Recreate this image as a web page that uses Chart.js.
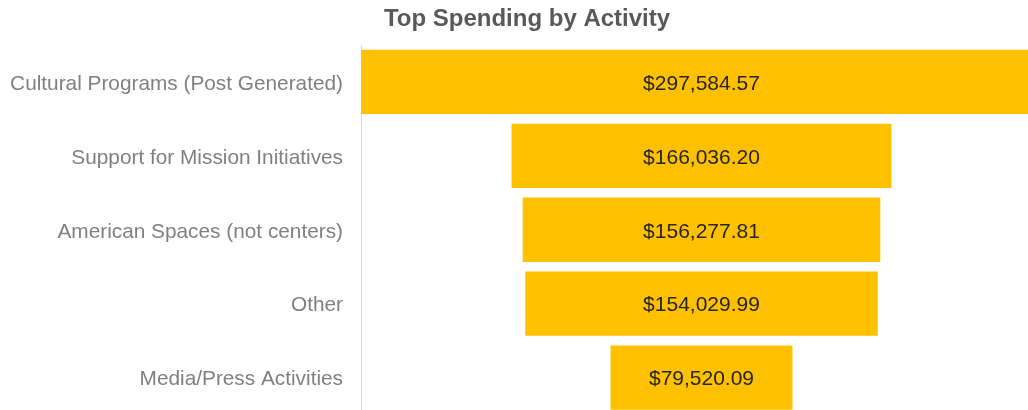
<!DOCTYPE html>
<html>
<head>
<meta charset="utf-8">
<script src="https://cdn.jsdelivr.net/npm/chart.js@4/dist/chart.umd.min.js"></script>
<style>
html,body{margin:0;padding:0;background:#fff;overflow:hidden;}
#c{position:absolute;left:0;top:0;}
</style>
</head>
<body>
<canvas id="c" width="1028" height="437" style="width:1028px;height:437px;"></canvas>
<script>
const categories = ["Cultural Programs (Post Generated)", "Support for Mission Initiatives", "American Spaces (not centers)", "Other", "Media/Press Activities"];
const spending = [297584.57, 166036.20, 156277.81, 154029.99, 79520.09];
const chartTitle = "Top Spending by Activity";

const maxVal = Math.max(...spending);
const floating = spending.map(v => [-v / 2, v / 2]);

function fmt(v) {
  return "$" + v.toLocaleString("en-US", {minimumFractionDigits: 2, maximumFractionDigits: 2});
}

const labelPlugin = {
  id: "labels",
  afterDatasetsDraw(chart) {
    const ctx = chart.ctx;
    const meta = chart.getDatasetMeta(0);
    ctx.save();
    ctx.font = "21px 'Liberation Sans', Arial, sans-serif";
    ctx.fillStyle = "#262626";
    ctx.textAlign = "center";
    ctx.textBaseline = "middle";
    meta.data.forEach((bar, i) => {
      ctx.fillText(fmt(spending[i]), (bar.x + bar.base) / 2, bar.y + 2);
    });
    ctx.restore();
  },
  afterDraw(chart) {
    const ctx = chart.ctx;
    ctx.save();
    ctx.font = "bold 24px 'Liberation Sans', Arial, sans-serif";
    ctx.fillStyle = "#595959";
    ctx.textAlign = "center";
    ctx.textBaseline = "middle";
    ctx.fillText(chartTitle, 527, 19);
    ctx.restore();
  }
};

new Chart(document.getElementById("c"), {
  type: "bar",
  data: {
    labels: categories,
    datasets: [{
      data: floating,
      backgroundColor: "#FFC000",
      borderWidth: 0,
      categoryPercentage: 1.0,
      barPercentage: 0.87
    }]
  },
  options: {
    indexAxis: "y",
    responsive: false,
    animation: false,
    devicePixelRatio: 1,
    layout: {padding: {top: 45, bottom: 1, left: 0, right: 0}},
    plugins: {legend: {display: false}, tooltip: {enabled: false}, title: {display: false}},
    scales: {
      x: {
        display: false,
        min: -maxVal / 2,
        max: maxVal / 2 * (326.5 / 340.5)
      },
      y: {
        grid: {display: false},
        border: {display: true, color: "#d9d9d9", width: 1},
        ticks: {
          color: "#808080",
          font: {family: "'Liberation Sans', Arial, sans-serif", size: 20.8},
          padding: 10,
          labelOffset: 2
        },
        afterFit(scale) { scale.width = 361; }
      }
    }
  },
  plugins: [labelPlugin]
});
</script>
</body>
</html>
